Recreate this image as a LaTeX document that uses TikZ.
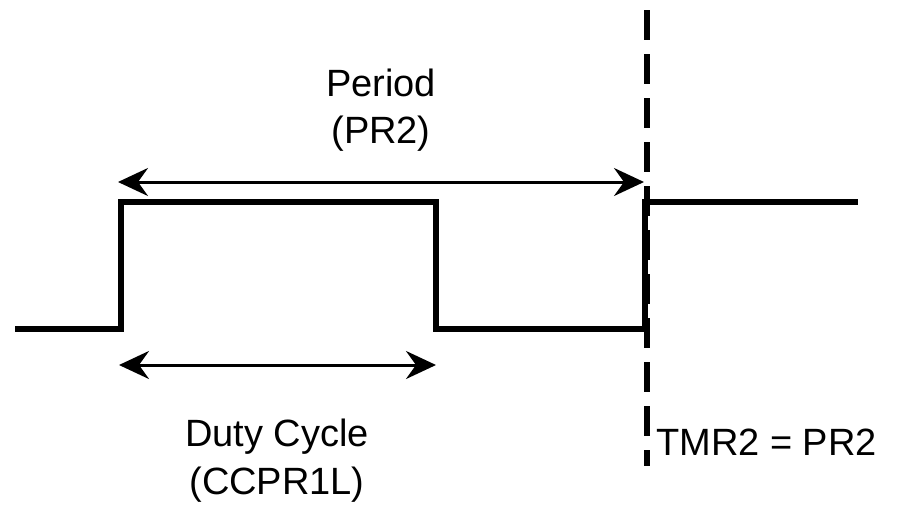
\documentclass[tikz,border=0pt]{standalone}
\usepackage{fontspec}
\setmainfont{Liberation Sans}
\usetikzlibrary{arrows.meta}
\begin{document}
\begin{tikzpicture}[x=1pt,y=-1pt,
  wave/.style={line width=5.5pt, line join=miter, line cap=butt},
  dim/.style={line width=3pt, {Stealth[length=30pt,width=28pt,inset=10pt]}-{Stealth[length=30pt,width=28pt,inset=10pt]}},
  trig/.style={line width=5.5pt, dash pattern=on 30pt off 14pt},
  lbl/.style={font=\fontsize{38}{46}\selectfont, inner sep=0pt, anchor=base}]
\useasboundingbox (0,0) rectangle (898,504);
% waveform points
\coordinate (w0) at (15,329);
\coordinate (w1) at (121,329);
\coordinate (w2) at (121,202);
\coordinate (w3) at (436,202);
\coordinate (w4) at (436,329);
\coordinate (w5) at (645,329);
\coordinate (w6) at (645,202);
\coordinate (w7) at (858,202);
\draw[wave] (w0) -- (w1) -- (w2) -- (w3) -- (w4) -- (w5) -- (w6) -- (w7);
% trigger line
\coordinate (t0) at (647,10);
\coordinate (t1) at (647,466);
\draw[trig] (t0) -- (t1);
% period arrow
\coordinate (p0) at (118,182);
\coordinate (p1) at (644,182);
\draw[dim] (p0) -- (p1);
% duty arrow
\coordinate (d0) at (119,365);
\coordinate (d1) at (436,365);
\draw[dim] (d0) -- (d1);
% labels
\node[lbl] (per1) at (381,96) {Period};
\node[lbl] (per2) at (381,143) {(PR2)};
\node[lbl] (dc1) at (277,446) {Duty Cycle};
\node[lbl] (dc2) at (277,494) {(CCPR1L)};
\node[lbl, anchor=base west] (tmr) at (656,455) {TMR2 = PR2};
\end{tikzpicture}
\end{document}
